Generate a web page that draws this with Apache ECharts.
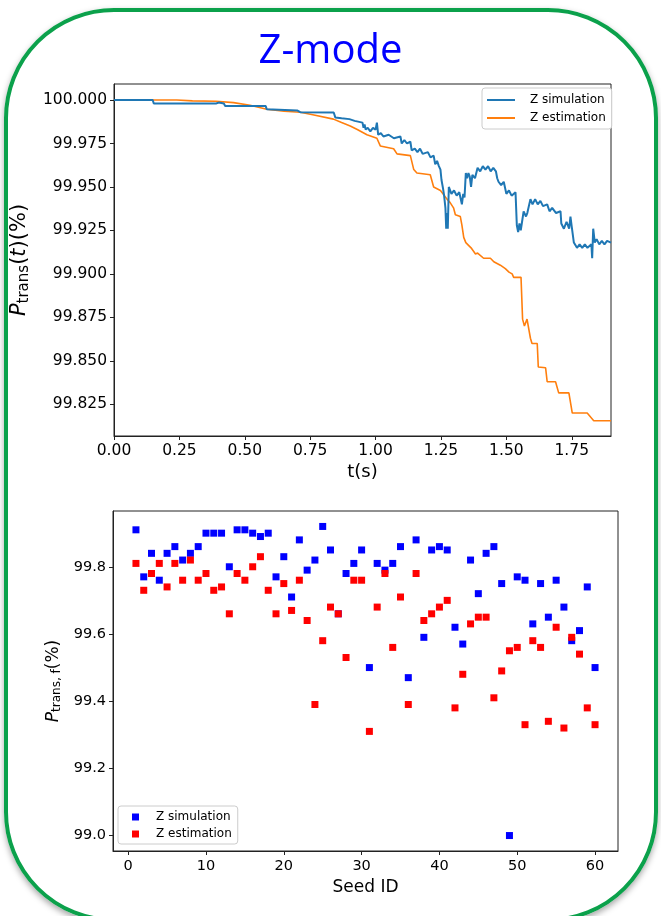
<!DOCTYPE html>
<html>
<head>
<meta charset="utf-8">
<script src="https://cdn.jsdelivr.net/npm/echarts@6/dist/echarts.min.js"></script>
<style>
html,body{margin:0;padding:0;background:#fff;width:661px;height:916px;overflow:hidden;}
#frame{position:absolute;left:4px;top:8px;width:646px;height:906px;border:4px solid #0ba14b;border-radius:110px;box-shadow:0 3px 6px rgba(0,0,0,0.35);}
#chart{position:absolute;left:0;top:0;width:661px;height:916px;}
</style>
</head>
<body>
<div id="frame"></div>
<div id="chart"></div>
<script>
// ---- Top chart: transmission over time, [t (s), P (%)] ----
const simData = [
  [0,100.000],[0.148,100.000],[0.152,99.998],[0.39,99.998],[0.40,99.9985],[0.42,99.998],[0.425,99.9966],
  [0.58,99.9965],[0.584,99.9947],[0.70,99.994],[0.712,99.993],[0.84,99.9928],[0.846,99.990],[0.87,99.9895],
  [0.90,99.989],[0.92,99.988],[0.95,99.987],[0.954,99.984],[0.958,99.986],[0.962,99.983],[0.97,99.984],
  [0.98,99.982],[0.99,99.984],[1.0,99.983],[1.005,99.987],[1.01,99.980],[1.02,99.981],[1.03,99.979],
  [1.05,99.980],[1.07,99.978],[1.095,99.979],[1.10,99.975],[1.11,99.977],[1.12,99.975],[1.133,99.976],
  [1.138,99.971],[1.15,99.972],[1.16,99.970],[1.17,99.972],[1.18,99.969],[1.2,99.970],[1.21,99.967],
  [1.222,99.968],[1.228,99.963],[1.235,99.965],[1.242,99.962],[1.248,99.960],[1.252,99.954],[1.258,99.949],
  [1.262,99.945],[1.267,99.938],[1.270,99.926],[1.273,99.935],[1.276,99.926],[1.280,99.950],[1.29,99.946],
  [1.30,99.948],[1.31,99.945],[1.32,99.947],[1.33,99.940],[1.335,99.946],[1.34,99.944],[1.345,99.958],
  [1.35,99.955],[1.355,99.958],[1.36,99.956],[1.365,99.950],[1.37,99.957],[1.38,99.955],[1.39,99.961],
  [1.40,99.959],[1.41,99.962],[1.42,99.960],[1.43,99.962],[1.44,99.959],[1.45,99.961],[1.46,99.959],
  [1.465,99.955],[1.47,99.953],[1.48,99.951],[1.49,99.953],[1.50,99.946],[1.51,99.948],[1.52,99.945],
  [1.535,99.947],[1.54,99.928],[1.545,99.924],[1.55,99.929],[1.555,99.925],[1.56,99.930],[1.566,99.936],
  [1.575,99.933],[1.58,99.935],[1.592,99.943],[1.60,99.940],[1.61,99.943],[1.62,99.940],[1.63,99.942],
  [1.64,99.939],[1.656,99.940],[1.665,99.936],[1.675,99.938],[1.69,99.935],[1.707,99.936],[1.71,99.929],
  [1.72,99.926],[1.73,99.930],[1.74,99.926],[1.745,99.933],[1.75,99.927],[1.758,99.918],[1.77,99.915],
  [1.78,99.917],[1.79,99.915],[1.80,99.917],[1.81,99.915],[1.825,99.917],[1.828,99.909],[1.832,99.926],
  [1.838,99.918],[1.845,99.920],[1.855,99.917],[1.865,99.919],[1.875,99.917],[1.885,99.919],[1.9,99.918]
];
const estData = [
  [0,100.000],[0.24,100.000],[0.30,99.9995],[0.39,99.9993],[0.457,99.9985],[0.52,99.997],[0.584,99.9947],
  [0.65,99.9935],[0.712,99.993],[0.76,99.9915],[0.839,99.989],[0.87,99.987],[0.903,99.985],[0.93,99.983],
  [0.967,99.980],[1.005,99.978],[1.018,99.9736],[1.069,99.972],[1.082,99.969],[1.133,99.968],[1.146,99.960],
  [1.158,99.958],[1.209,99.957],[1.222,99.950],[1.248,99.948],[1.273,99.943],[1.285,99.941],[1.298,99.938],
  [1.305,99.934],[1.324,99.933],[1.330,99.928],[1.337,99.921],[1.345,99.918],[1.350,99.917],[1.365,99.915],
  [1.382,99.9115],[1.39,99.912],[1.413,99.909],[1.439,99.909],[1.452,99.907],[1.477,99.905],[1.496,99.903],
  [1.51,99.901],[1.522,99.900],[1.528,99.898],[1.556,99.898],[1.562,99.874],[1.569,99.870],[1.579,99.874],
  [1.592,99.863],[1.598,99.860],[1.618,99.860],[1.622,99.8465],[1.650,99.846],[1.656,99.838],[1.688,99.838],
  [1.700,99.8316],[1.739,99.8316],[1.752,99.820],[1.809,99.820],[1.834,99.8156],[1.9,99.8156]
];
const topXTicks = [0,0.25,0.5,0.75,1.0,1.25,1.5,1.75];
const topYTicks = [99.825,99.85,99.875,99.9,99.925,99.95,99.975,100.0];

// ---- Bottom chart: final transmission per seed ----
const seeds = Array.from({length:60},(_,i)=>i+1);
const simFinal = [99.91,99.77,99.84,99.76,99.84,99.86,99.82,99.84,99.86,99.90,
                  99.90,99.90,99.80,99.91,99.91,99.90,99.89,99.90,99.77,99.83,
                  99.71,99.88,99.79,99.82,99.92,99.85,99.66,99.78,99.81,99.85,
                  99.50,99.81,99.79,99.81,99.86,99.47,99.88,99.59,99.85,99.86,
                  99.85,99.62,99.57,99.82,99.72,99.84,99.86,99.75,99.00,99.77,
                  99.76,99.63,99.75,99.65,99.76,99.68,99.58,99.61,99.74,99.50];
const estFinal = [99.81,99.73,99.78,99.81,99.74,99.81,99.76,99.82,99.76,99.78,
                  99.73,99.74,99.66,99.78,99.76,99.80,99.83,99.73,99.66,99.75,
                  99.67,99.76,99.64,99.39,99.58,99.68,99.66,99.53,99.76,99.76,
                  99.31,99.68,99.78,99.56,99.71,99.39,99.78,99.64,99.66,99.68,
                  99.70,99.38,99.48,99.63,99.65,99.65,99.41,99.49,99.55,99.56,
                  99.33,99.58,99.56,99.34,99.62,99.32,99.59,99.54,99.38,99.33];
const botXTicks = [0,10,20,30,40,50,60];
const botYTicks = [99.0,99.2,99.4,99.6,99.8];

const FONT = 'DejaVu Sans';
const pair = (xs, ys) => xs.map((x,i)=>[x, ys[i]]);

const chart = echarts.init(document.getElementById('chart'), null, {renderer:'canvas'});
const axisLineStyle = {color:'#222', width:1};
const option = {
  backgroundColor: 'transparent',
  animation: false,
  title: {
    text: 'Z-mode', left: 'center', top: 27,
    textStyle: {color:'#0000ff', fontSize:40, fontWeight:'normal', fontFamily:'Open Sans'}
  },
  legend: [
    {
      data: ['Z simulation','Z estimation'],
      orient: 'vertical', left: 482, top: 88,
      icon: 'rect', itemWidth: 28, itemHeight: 2, itemGap: 6,
      padding: [6,6,5,5],
      borderColor: '#ccc', borderWidth: 1, borderRadius: 3, backgroundColor: '#fff',
      textStyle: {fontFamily: FONT, fontSize: 12, color:'#000', padding:[0,0,0,10]}
    },
    {
      data: ['Z simulation ','Z estimation '],
      formatter: n => n.trim(),
      orient: 'vertical', left: 118, top: 806,
      icon: 'rect', itemWidth: 7, itemHeight: 7, itemGap: 5,
      padding: [5,6,4,14],
      borderColor: '#ccc', borderWidth: 1, borderRadius: 3, backgroundColor: '#fff',
      textStyle: {fontFamily: FONT, fontSize: 12, color:'#000', padding:[0,0,0,12]}
    }
  ],
  grid: [
    {left:114, top:84, right:50, bottom:480, show:true, borderColor:'#222', borderWidth:1, containLabel:false},
    {left:113, top:511, right:43, bottom:65, show:true, borderColor:'#222', borderWidth:1, containLabel:false}
  ],
  xAxis: [
    {
      type:'value', gridIndex:0, min:0, max:1.9,
      axisLine:{show:true, onZero:false, lineStyle:axisLineStyle},
      axisTick:{show:true, inside:false, length:4, customValues: topXTicks, lineStyle:axisLineStyle},
      axisLabel:{customValues: topXTicks, formatter: v => v.toFixed(2), fontFamily:FONT, fontSize:15.5, color:'#000', margin:7},
      splitLine:{show:false},
      name:'t(s)', nameLocation:'middle', nameGap:27,
      nameTextStyle:{fontFamily:FONT, fontSize:18, color:'#000'}
    },
    {
      type:'value', gridIndex:1, min:-1.95, max:62.95,
      axisLine:{show:true, onZero:false, lineStyle:axisLineStyle},
      axisTick:{show:true, inside:false, length:4, customValues: botXTicks, lineStyle:axisLineStyle},
      axisLabel:{customValues: botXTicks, formatter: v => String(Math.round(v)), fontFamily:FONT, fontSize:14.5, color:'#000', margin:8},
      splitLine:{show:false},
      name:'Seed ID', nameLocation:'middle', nameGap:28,
      nameTextStyle:{fontFamily:FONT, fontSize:17, color:'#000'}
    }
  ],
  yAxis: [
    {
      type:'value', gridIndex:0, min:99.8068, max:100.0092,
      axisLine:{show:true, onZero:false, lineStyle:axisLineStyle},
      axisTick:{show:true, inside:false, length:4, customValues: topYTicks, lineStyle:axisLineStyle},
      axisLabel:{customValues: topYTicks, formatter: v => v.toFixed(3), fontFamily:FONT, fontSize:15.5, color:'#000', margin:7},
      splitLine:{show:false},
      name:'{p|P}{s|trans}{n|(}{p|t}{n|)(%)}', nameLocation:'middle', nameGap:76, nameRotate:90,
      nameTextStyle:{
        fontFamily:FONT, fontSize:21, color:'#000',
        rich:{
          p:{fontFamily:FONT, fontSize:21, fontStyle:'italic', color:'#000'},
          n:{fontFamily:FONT, fontSize:21, color:'#000'},
          s:{fontFamily:FONT, fontSize:15, color:'#000', verticalAlign:'bottom', padding:[9,0,0,0]}
        }
      }
    },
    {
      type:'value', gridIndex:1, min:98.954, max:99.966,
      axisLine:{show:true, onZero:false, lineStyle:axisLineStyle},
      axisTick:{show:true, inside:false, length:4, customValues: botYTicks, lineStyle:axisLineStyle},
      axisLabel:{customValues: botYTicks, formatter: v => v.toFixed(1), fontFamily:FONT, fontSize:14.5, color:'#000', margin:7},
      splitLine:{show:false},
      name:'{p|P}{s|trans, f}{n|(%)}', nameLocation:'middle', nameGap:48, nameRotate:90,
      nameTextStyle:{
        fontFamily:FONT, fontSize:17, color:'#000',
        rich:{
          p:{fontFamily:FONT, fontSize:17, fontStyle:'italic', color:'#000'},
          n:{fontFamily:FONT, fontSize:17, color:'#000'},
          s:{fontFamily:FONT, fontSize:12, color:'#000', verticalAlign:'bottom', padding:[7,0,0,0]}
        }
      }
    }
  ],
  series: [
    {
      name:'Z simulation', type:'line', xAxisIndex:0, yAxisIndex:0,
      data: simData, showSymbol:false, symbol:'none',
      lineStyle:{color:'#1f77b4', width:2}, itemStyle:{color:'#1f77b4'}, z:3
    },
    {
      name:'Z estimation', type:'line', xAxisIndex:0, yAxisIndex:0,
      data: estData, showSymbol:false, symbol:'none',
      lineStyle:{color:'#ff7f0e', width:1.6}, itemStyle:{color:'#ff7f0e'}, z:2
    },
    {
      name:'Z simulation ', type:'scatter', xAxisIndex:1, yAxisIndex:1,
      data: pair(seeds, simFinal), symbol:'rect', symbolSize:7,
      itemStyle:{color:'#0000ff', opacity:1}
    },
    {
      name:'Z estimation ', type:'scatter', xAxisIndex:1, yAxisIndex:1,
      data: pair(seeds, estFinal), symbol:'rect', symbolSize:7,
      itemStyle:{color:'#ff0000', opacity:1}
    }
  ]
};
chart.setOption(option);
</script>
</body>
</html>
